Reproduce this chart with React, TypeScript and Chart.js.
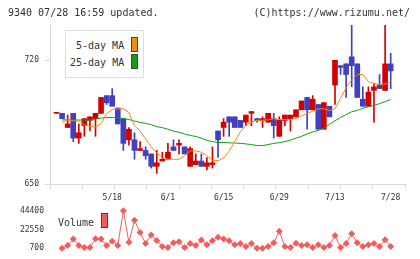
import { useEffect, useRef } from 'react';
import { Chart, registerables } from 'chart.js';

Chart.register(...registerables);

// Trading days shown on the chart
const dates = [
  '5/1', '5/2', '5/8', '5/9', '5/10', '5/11', '5/12', '5/15', '5/16', '5/17',
  '5/18', '5/19', '5/22', '5/23', '5/24', '5/25', '5/26', '5/29', '5/30', '5/31',
  '6/1', '6/2', '6/5', '6/6', '6/7', '6/8', '6/9', '6/12', '6/13', '6/14',
  '6/15', '6/16', '6/19', '6/20', '6/21', '6/22', '6/23', '6/26', '6/27', '6/28',
  '6/29', '6/30', '7/3', '7/4', '7/5', '7/6', '7/7', '7/10', '7/11', '7/12',
  '7/13', '7/14', '7/18', '7/19', '7/20', '7/21', '7/24', '7/25', '7/26', '7/27',
  '7/28',
];
const dateTicks = ['5/18', '6/1', '6/15', '6/29', '7/13', '7/28'];

const opens = [
  690, 690, 682, 690, 676, 683, 686, 687, 690, 700,
  700, 693, 687, 675, 675, 669, 669, 667, 660, 663,
  664, 671, 672, 671, 660, 661, 663, 660, 661, 680,
  682, 688, 688, 686, 685, 690, 687, 686, 685, 687,
  677, 686, 687, 688, 692, 699, 692, 695, 681, 694,
  706, 717, 718, 722, 718, 698, 694, 703, 706, 703,
  718,
];
const closes = [
  690, 687, 684, 676, 679, 687, 688, 690, 699, 696,
  694, 684, 673, 681, 669, 670, 666, 660, 662, 664,
  668, 669, 673, 667, 670, 663, 660, 662, 662, 675,
  685, 685, 682, 682, 689, 691, 686, 687, 690, 683,
  686, 689, 689, 692, 697, 692, 698, 681, 696, 688,
  720, 716, 712, 717, 699, 694, 702, 705, 704, 718,
  714,
];
const highs = [
  690, 690, 689, 690, 684, 687, 688, 690, 699, 700,
  704, 693, 687, 682, 679, 674, 671, 667, 669, 668,
  673, 675, 675, 671, 671, 667, 667, 665, 671, 680,
  687, 688, 688, 686, 689, 691, 687, 688, 690, 690,
  688, 689, 689, 692, 697, 699, 700, 695, 696, 694,
  720, 717, 718, 744, 718, 705, 705, 707, 712, 744,
  724,
];
const lows = [
  690, 687, 682, 674, 673, 677, 680, 677, 690, 695,
  694, 684, 669, 672, 664, 669, 664, 659, 656, 663,
  664, 669, 667, 667, 660, 661, 660, 658, 659, 665,
  677, 677, 682, 682, 683, 683, 685, 682, 685, 676,
  677, 683, 680, 688, 692, 681, 692, 681, 681, 688,
  695, 712, 699, 705, 699, 694, 694, 685, 704, 703,
  704,
];
const ma5 = [
  null, 684.8, 686.3, 685.8, 685.5, 683.5, 682.6, 682.3, 684.2, 689.8,
  692.2, 692.5, 692.7, 690.5, 683, 680, 675.5, 671, 667.5, 665,
  664, 664, 664, 666, 668.8, 668.8, 668, 666, 663.5, 663.2,
  664.8, 668.5, 674, 679.5, 683.2, 685, 686, 686.1, 686.3, 687,
  686.5, 686.5, 686.5, 687.2, 688.6, 689.8, 691.2, 692.5, 692.6, 691.6,
  692.5, 698.5, 704.5, 709, 712, 712, 708, 706.8, 706.4, 706.6,
  707.7,
];
const ma25 = [
  null, 686.3, 686.3, 686.2, 686.2, 686.2, 686.2, 686.8, 687.3, 687.6,
  687.6, 687.5, 687, 686.5, 685.6, 684.9, 684.3, 683.6, 682.5, 681.9,
  681, 679.9, 679.3, 678.3, 677.5, 676.9, 676, 674.7, 674, 673.5,
  673.5, 673.3, 673.2, 673, 672.7, 672.3, 671.8, 671.8, 672.3, 673,
  673.4, 674, 674.8, 676, 677, 678.3, 679.5, 680.4, 681.7, 683.8,
  685.8, 687.7, 689.3, 690.9, 691.6, 692.9, 693.7, 694.5, 695.5, 696.6,
  697.8,
];
const volumes = [
  null, 700, 4000, 11400, 4000, 1500, 1500, 11700, 11400, 4000,
  8700, 4000, 44400, 7600, 33400, 19100, 6200, 16100, 9800, 2600,
  1500, 7000, 8100, 1500, 6200, 4000, 10300, 4800, 9500, 13600,
  11400, 9500, 4800, 6200, 2600, 6200, 700, 700, 2600, 7000,
  20500, 2600, 1500, 6600, 4000, 4800, 1500, 4800, 1500, 4000,
  15400, 1500, 6200, 17600, 7000, 2600, 4800, 6200, 2600, 10600,
  2600,
];
const priceTicks = [650, 720];
const volumeTicks = [700, 22550, 44400];

const X_MIN = -1.17;
const X_MAX = 62.57;
const PRICE_MIN = 650;
const PRICE_MAX = 740;

const RED = '#d40000';
const BLUE = '#4040c0';
const ORANGE = '#f08c14';
const GREEN = '#10a010';
const VOL = '#f45c5c';
const AXIS = '#d8d8d8';
const TEXT = '#333';
const MONO = '"DejaVu Sans Mono", monospace';

export default function App() {
  const priceRef = useRef<HTMLCanvasElement>(null);
  const volRef = useRef<HTMLCanvasElement>(null);

  useEffect(() => {
    const idx = dates.map((_, i) => i);
    const candleColors = idx.map((i) => (closes[i] >= opens[i] ? RED : BLUE));

    const price = new Chart(priceRef.current!, {
      type: 'bar',
      data: {
        datasets: [
          {
            type: 'line',
            label: '5-day MA',
            data: idx.map((i) => ({ x: i, y: ma5[i] })),
            borderColor: ORANGE,
            borderWidth: 1,
            pointRadius: 0,
            tension: 0,
            order: 1,
          },
          {
            type: 'line',
            label: '25-day MA',
            data: idx.map((i) => ({ x: i, y: ma25[i] })),
            borderColor: GREEN,
            borderWidth: 1,
            pointRadius: 0,
            tension: 0,
            order: 1,
          },
          {
            type: 'bar',
            label: 'body',
            data: idx.map((i) => ({ x: i, y: [opens[i], closes[i]] })),
            backgroundColor: candleColors,
            borderWidth: 0,
            barThickness: 5,
            grouped: false,
            minBarLength: 1,
            order: 2,
          },
          {
            type: 'bar',
            label: 'wick',
            data: idx.map((i) => ({ x: i, y: [lows[i], highs[i]] })),
            backgroundColor: candleColors,
            borderWidth: 0,
            barThickness: 1,
            grouped: false,
            order: 3,
          },
        ] as any,
      },
      options: {
        responsive: false,
        animation: false,
        layout: { padding: { top: 25, right: 15, left: 0, bottom: 0 } },
        plugins: { legend: { display: false }, tooltip: { enabled: false } },
        scales: {
          x: {
            type: 'linear',
            position: 'bottom',
            weight: 0,
            min: X_MIN,
            max: X_MAX,
            offset: false,
            afterBuildTicks: (scale: any) => {
              scale.ticks = Array.from({ length: 12 }, (_, k) => ({
                value: X_MIN + (k * (X_MAX - X_MIN)) / 11,
              }));
            },
            afterFit: (scale: any) => {
              scale.height = 6;
            },
            ticks: { display: false },
            grid: {
              offset: false,
              drawOnChartArea: false,
              drawTicks: true,
              tickLength: 5,
              color: AXIS,
            },
            border: { display: true, color: AXIS },
          },
          xDates: {
            type: 'linear',
            position: 'bottom',
            weight: 1,
            min: X_MIN,
            max: X_MAX,
            offset: false,
            afterBuildTicks: (scale: any) => {
              scale.ticks = dateTicks.map((d) => ({ value: dates.indexOf(d) }));
            },
            afterFit: (scale: any) => {
              scale.height = 22;
            },
            ticks: {
              autoSkip: false,
              maxRotation: 0,
              padding: 3,
              color: TEXT,
              font: { family: MONO, size: 8 },
              callback: (v: any) => dates[Math.round(Number(v))],
            },
            grid: { display: false, drawTicks: false, offset: false },
            border: { display: false },
          },
          y: {
            type: 'linear',
            position: 'left',
            min: PRICE_MIN,
            max: PRICE_MAX,
            afterBuildTicks: (scale: any) => {
              scale.ticks = priceTicks.map((v) => ({ value: v }));
            },
            afterFit: (scale: any) => {
              scale.width = 50;
            },
            ticks: {
              padding: 6,
              color: TEXT,
              font: { family: MONO, size: 8 },
              callback: (v: any) => String(v),
            },
            grid: {
              drawOnChartArea: false,
              drawTicks: true,
              tickLength: 5,
              color: AXIS,
            },
            border: { display: true, color: AXIS },
          },
        },
      } as any,
    });

    const volume = new Chart(volRef.current!, {
      type: 'line',
      data: {
        datasets: [
          {
            label: 'Volume',
            data: idx.map((i) => ({ x: i, y: volumes[i] })),
            borderColor: VOL,
            backgroundColor: VOL,
            borderWidth: 1,
            pointStyle: 'rectRot',
            pointRadius: 3.5,
            pointBorderWidth: 0,
            tension: 0,
            clip: false,
          },
        ] as any,
      },
      options: {
        responsive: false,
        animation: false,
        layout: { padding: { top: 9, right: 15, left: 0, bottom: 10 } },
        plugins: { legend: { display: false }, tooltip: { enabled: false } },
        scales: {
          x: { type: 'linear', min: X_MIN, max: X_MAX, display: false },
          y: {
            type: 'linear',
            min: 700,
            max: 44400,
            afterBuildTicks: (scale: any) => {
              scale.ticks = volumeTicks.map((v) => ({ value: v }));
            },
            afterFit: (scale: any) => {
              scale.width = 50;
            },
            ticks: {
              padding: 6,
              color: TEXT,
              font: { family: MONO, size: 8 },
              callback: (v: any) => String(v),
            },
            grid: { display: false, drawTicks: false },
            border: { display: false },
          },
        },
      } as any,
    });

    return () => {
      price.destroy();
      volume.destroy();
    };
  }, []);

  const text10: React.CSSProperties = {
    position: 'absolute',
    fontFamily: MONO,
    fontSize: 10,
    lineHeight: '12px',
    color: TEXT,
    whiteSpace: 'pre',
  };
  const swatch = (color: string, left: number, top: number): React.CSSProperties => ({
    position: 'absolute',
    left,
    top,
    width: 5,
    height: 13,
    background: color,
    border: '1px solid #444',
  });

  return (
    <div style={{ position: 'absolute', left: 0, top: 0, width: 420, height: 259, background: '#fff', overflow: 'hidden' }}>
      <canvas ref={priceRef} width={420} height={212} style={{ position: 'absolute', left: 0, top: 0 }} />
      <canvas ref={volRef} width={420} height={59} style={{ position: 'absolute', left: 0, top: 200 }} />
      <div style={{ ...text10, left: 8, top: 7 }}>9340 07/28 16:59 updated.</div>
      <div style={{ ...text10, right: 10, top: 7 }}>(C)https://www.rizumu.net/</div>
      <div
        style={{
          position: 'absolute',
          left: 65,
          top: 30,
          width: 77,
          height: 46,
          background: '#fff',
          border: '1px solid #ddd',
        }}
      />
      <div style={{ ...text10, left: 76, top: 40 }}>5-day MA</div>
      <div style={{ ...text10, left: 70, top: 57 }}>25-day MA</div>
      <div style={swatch(ORANGE, 131, 37)} />
      <div style={swatch(GREEN, 131, 54)} />
      <div style={{ ...text10, left: 58, top: 217 }}>Volume</div>
      <div style={swatch(VOL, 101, 213)} />
    </div>
  );
}
